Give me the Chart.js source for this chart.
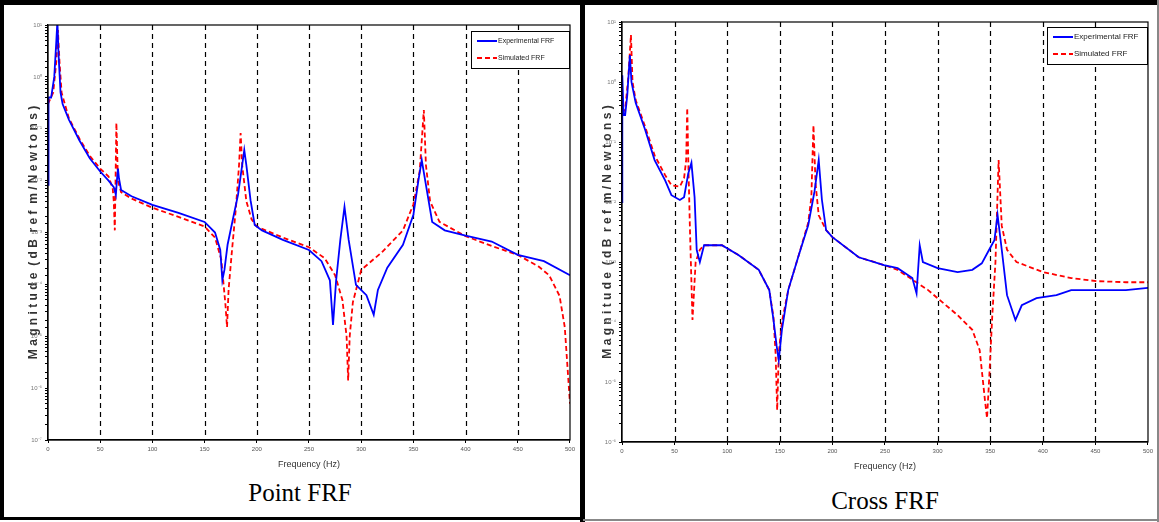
<!DOCTYPE html>
<html>
<head>
<meta charset="utf-8">
<script src="https://cdn.jsdelivr.net/npm/chart.js@4.4.1/dist/chart.umd.min.js"></script>
<style>
  body { margin: 0; width: 1159px; height: 522px; background: #fff; position: relative; overflow: hidden; }
  .bar { position: absolute; background: #000; }
  canvas { position: absolute; }
  .caption { position: absolute; font-family: "Liberation Serif", "Times New Roman", serif; font-size: 25px; color: #000; text-align: center; width: 300px; }
</style>
</head>
<body>
<div class="bar" style="left:0;top:0;width:1159px;height:5px"></div>
<div class="bar" style="left:0;top:0;width:4px;height:520px"></div>
<div class="bar" style="left:580px;top:0;width:5px;height:522px"></div>
<div class="bar" style="left:0;top:517px;width:583px;height:3px"></div>
<div class="bar" style="left:583px;top:519px;width:576px;height:2px;background:#888"></div>
<div class="bar" style="left:1157px;top:0;width:2px;height:522px;background:#888"></div>

<canvas id="pointChart" width="552" height="464" style="left:26px;top:8px"></canvas>
<canvas id="crossChart" width="556" height="466" style="left:600px;top:8px"></canvas>

<div class="caption" style="left:150px;top:479px">Point FRF</div>
<div class="caption" style="left:735px;top:487px">Cross FRF</div>

<script>
// Point FRF
const pointExpFreq = [0, 0.5, 3, 6, 8, 9, 10, 12, 14, 20, 30, 40, 50, 58, 63, 65, 66, 67, 68, 70, 80, 100, 125, 150, 160, 165, 167, 169, 172, 178, 182, 186, 188, 190, 194, 198, 205, 225, 250, 262, 270, 273, 276, 280, 284, 288, 295, 305, 312, 316, 325, 340, 350, 355, 358, 362, 368, 380, 400, 425, 450, 475, 500];
const pointExpMag = [0.0083, 0.4, 0.4, 1.0, 5, 12, 3, 0.5, 0.3, 0.15, 0.06, 0.027, 0.015, 0.010, 0.0075, 0.0053, 0.010, 0.017, 0.011, 0.0066, 0.005, 0.0034, 0.0024, 0.0016, 0.001, 0.00046, 0.00012, 0.00019, 0.00058, 0.0022, 0.0053, 0.02, 0.039, 0.02, 0.0042, 0.0014, 0.0011, 0.00072, 0.00046, 0.00028, 0.00012, 1.66e-5, 0.00012, 0.00072, 0.0031, 0.00072, 9.8e-5, 6.2e-5, 2.6e-5, 7.8e-5, 0.00021, 0.00058, 0.0022, 0.0107, 0.025, 0.0083, 0.0016, 0.0011, 0.00087, 0.00067, 0.00037, 0.00028, 0.00015];
const pointSimFreq = [0, 5, 8, 9.5, 11, 13, 20, 30, 40, 50, 58, 62, 63, 64, 65.5, 67, 70, 80, 100, 125, 150, 160, 166, 170, 171.5, 173, 176, 180, 183, 184.5, 186, 190, 195, 200, 225, 250, 265, 275, 282, 286, 287.5, 289, 292, 300, 320, 340, 350, 356, 360, 362, 366, 375, 400, 425, 450, 470, 480, 490, 495, 500];
const pointSimMag = [0.3, 0.5, 2, 8, 2, 0.5, 0.16, 0.065, 0.03, 0.017, 0.012, 0.007, 0.004, 0.0011, 0.13, 0.01, 0.006, 0.0045, 0.003, 0.002, 0.0013, 0.0008, 0.0003, 0.00004, 1.5e-5, 0.00008, 0.0004, 0.003, 0.02, 0.083, 0.02, 0.004, 0.0018, 0.0013, 0.0008, 0.00052, 0.00032, 0.00015, 5e-5, 1e-5, 1.4e-6, 1e-5, 4.5e-5, 0.00019, 0.00042, 0.0011, 0.0035, 0.015, 0.23, 0.02, 0.004, 0.0016, 0.00085, 0.00055, 0.00037, 0.00022, 0.00015, 6e-5, 1.5e-5, 5e-7];

// Cross FRF
const crossExpFreq = [0, 0.3, 1.5, 3, 5, 7.5, 9, 13, 22, 31, 41, 47, 55, 59, 63, 66, 69, 71, 74, 78, 95, 111, 130, 140, 144, 147, 149, 152, 158, 168, 177, 183, 187, 190, 194, 200, 225, 249, 262, 276, 280, 283, 286, 300, 319, 333, 342, 349, 354, 357, 361, 366, 374, 380, 394, 413, 427, 451, 479, 500];
const crossExpMag = [0.01, 1.3, 0.28, 0.28, 0.6, 2.8, 1.0, 0.45, 0.16, 0.05, 0.023, 0.013, 0.0108, 0.012, 0.03, 0.045, 0.012, 0.0016, 0.001, 0.0019, 0.0019, 0.0013, 0.00074, 0.00034, 0.000108, 4e-5, 2.3e-5, 7.4e-5, 0.00034, 0.0013, 0.0041, 0.015, 0.05, 0.011, 0.0034, 0.0026, 0.0012, 0.00089, 0.00079, 0.00054, 0.0003, 0.0019, 0.001, 0.00079, 0.00068, 0.00074, 0.00095, 0.0016, 0.0023, 0.0061, 0.0016, 0.00028, 0.000108, 0.00019, 0.00025, 0.00028, 0.00034, 0.00034, 0.00034, 0.00037];
const crossSimFreq = [0, 3, 6, 8.5, 10, 13, 22, 31, 41, 47, 55, 59, 61, 62, 63, 64.5, 67, 70, 74, 78, 95, 111, 130, 140, 144, 146, 147.5, 149, 152, 158, 168, 177, 180, 182, 184, 187, 194, 200, 225, 249, 262, 291, 319, 333, 340, 345, 347, 349, 352, 355, 358, 361, 366, 375, 400, 427, 451, 479, 500];
const crossSimMag = [0.3, 0.35, 1.2, 6.1, 1.0, 0.5, 0.18, 0.06, 0.028, 0.019, 0.018, 0.025, 0.05, 0.37, 0.05, 0.004, 0.000108, 0.001, 0.0016, 0.0019, 0.0019, 0.0013, 0.00074, 0.00034, 0.00012, 3e-5, 3.4e-6, 3e-5, 0.0001, 0.00034, 0.0013, 0.0045, 0.012, 0.19, 0.02, 0.006, 0.0034, 0.0026, 0.0012, 0.00089, 0.00074, 0.00034, 0.00013, 7.4e-5, 3.4e-5, 5e-6, 2.5e-6, 1.1e-5, 0.00013, 0.001, 0.05, 0.004, 0.0016, 0.001, 0.00068, 0.00054, 0.00048, 0.00046, 0.00046];

// axis labels
const freqTicks = [0, 50, 100, 150, 200, 250, 300, 350, 400, 450, 500];
const seriesLabels = ["Experimental FRF", "Simulated FRF"];
const yTitle = "M a g n i t u d e  ( d B  r e f  m / N e w t o n s )";
const xTitle = "Frequency (Hz)";

const sup = { "-": "\u207B", "0": "\u2070", "1": "\u00B9", "2": "\u00B2", "3": "\u00B3", "4": "\u2074", "5": "\u2075", "6": "\u2076", "7": "\u2077", "8": "\u2078", "9": "\u2079" };
function powLabel(v) {
  const e = Math.log10(v);
  if (Math.abs(e - Math.round(e)) > 1e-6) return "";
  return "10" + String(Math.round(e)).split("").map(c => sup[c]).join("");
}

// dashed verticals, box frame and the boxed legend
const frfFrame = {
  id: "frfFrame",
  beforeDatasetsDraw(chart) {
    const { ctx, chartArea: a, scales: { x } } = chart;
    ctx.save();
    ctx.strokeStyle = "#000";
    ctx.lineWidth = 1.2;
    ctx.setLineDash([5, 4]);
    freqTicks.forEach(f => {
      if (f <= x.min || f >= x.max) return;
      const px = Math.round(x.getPixelForValue(f)) + 0.5;
      ctx.beginPath();
      ctx.moveTo(px, a.top);
      ctx.lineTo(px, a.bottom);
      ctx.stroke();
    });
    ctx.restore();
  },
  afterDatasetsDraw(chart, args, opts) {
    const { ctx, chartArea: a } = chart;
    ctx.save();
    ctx.strokeStyle = "#000";
    ctx.lineWidth = 1.2;
    ctx.strokeRect(a.left, a.top, a.right - a.left, a.bottom - a.top);
    // legend
    const w = opts.w, h = 37;
    const bx = a.right - w - 1, by = a.top + opts.top;
    ctx.fillStyle = "#fff";
    ctx.fillRect(bx, by, w, h);
    ctx.lineWidth = 1;
    ctx.strokeRect(bx + 0.5, by + 0.5, w, h);
    ctx.font = opts.font;
    ctx.textBaseline = "middle";
    chart.data.datasets.forEach((ds, i) => {
      const ly = by + 10 + i * 17;
      ctx.strokeStyle = ds.borderColor;
      ctx.lineWidth = 2;
      ctx.setLineDash(ds.borderDash || []);
      ctx.beginPath();
      ctx.moveTo(bx + 6, ly);
      ctx.lineTo(bx + 26, ly);
      ctx.stroke();
      ctx.setLineDash([]);
      ctx.fillStyle = "#222";
      ctx.fillText(ds.label, bx + 27, ly);
    });
    ctx.restore();
  }
};

function buildChart(id, expF, expM, simF, simM, yMin, pad, xHeight, legend) {
  return new Chart(document.getElementById(id), {
    type: "line",
    data: {
      datasets: [
        { label: seriesLabels[0], data: expF.map((f, i) => ({ x: f, y: expM[i] })), borderColor: "#0000ff", borderWidth: 1.8, pointRadius: 0, tension: 0 },
        { label: seriesLabels[1], data: simF.map((f, i) => ({ x: f, y: simM[i] })), borderColor: "#ff0000", borderWidth: 1.8, borderDash: [5, 3], pointRadius: 0, tension: 0 }
      ]
    },
    options: {
      responsive: false,
      animation: false,
      layout: { padding: pad },
      plugins: { legend: { display: false }, tooltip: { enabled: false }, frfFrame: legend },
      scales: {
        x: {
          type: "linear", min: 0, max: 500,
          afterBuildTicks: s => { s.ticks = freqTicks.map(v => ({ value: v })); },
          ticks: { font: { size: 6 }, color: "#555", padding: 3, maxRotation: 0 },
          grid: { drawOnChartArea: false, tickLength: 3, color: "#000" },
          border: { color: "#000", width: 1.2 },
          title: { display: true, text: xTitle, font: { family: "Liberation Sans", size: 9 }, color: "#333", padding: { top: 0, bottom: 2 } },
          afterFit: s => { s.height = xHeight; }
        },
        y: {
          type: "logarithmic", min: yMin, max: 10,
          ticks: { autoSkip: false, callback: v => powLabel(v), font: { size: 6 }, color: "#777", padding: 3 },
          grid: { drawOnChartArea: false, tickLength: 3, color: "#000" },
          border: { color: "#000", width: 1.2 },
          title: { display: true, text: yTitle, font: { family: "Liberation Sans", size: 12, weight: "bold" }, color: "#333", padding: 0 },
          afterFit: s => { s.width = 22; }
        }
      }
    },
    plugins: [frfFrame]
  });
}

buildChart("pointChart", pointExpFreq, pointExpMag, pointSimFreq, pointSimMag, 1e-7,
  { left: 0, right: 7, top: 17, bottom: 0 }, 32,
  { w: 98, top: 6, font: "7px 'Liberation Sans Narrow', 'Liberation Sans', sans-serif" });
buildChart("crossChart", crossExpFreq, crossExpMag, crossSimFreq, crossSimMag, 1e-6,
  { left: 0, right: 4, top: 14, bottom: 0 }, 32,
  { w: 100, top: 5, font: "8px 'Liberation Sans Narrow', 'Liberation Sans', sans-serif" });
</script>
</body>
</html>
